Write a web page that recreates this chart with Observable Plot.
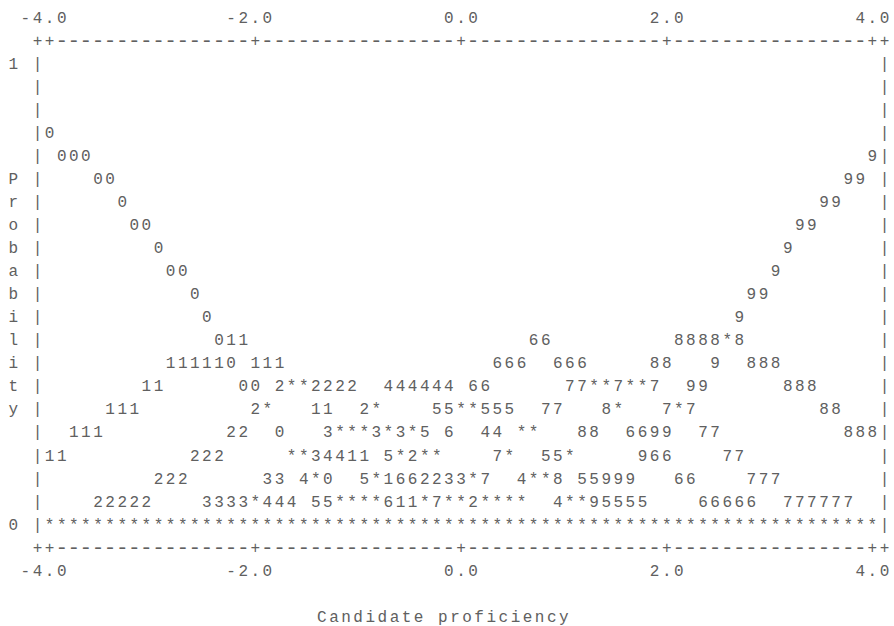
<!DOCTYPE html>
<html>
<head>
<meta charset="utf-8">
<script src="https://cdn.jsdelivr.net/npm/d3@7"></script>
<script src="https://cdn.jsdelivr.net/npm/@observablehq/plot@0.6"></script>
<style>
  body { margin: 0; background: #ffffff; }
  #chart svg { display: block; }
</style>
</head>
<body>
<div id="chart"></div>
<script>
// ---- Data (Winsteps-style category probability curves) ----
const xTicks = [-4, -2, 0, 2, 4];
const xTickLabels = ["-4.0", "-2.0", "0.0", "2.0", "4.0"];
const yTickValues = [1, 0];
const yTickLabels = ["1", "0"];
const yTitle = "Probability";
const xTitle = "Candidate proficiency";

// Each plot line (probability band, from 1.0 down to 0.0 in steps of 0.05):
// [character column, glyphs]  (column 1 = -4.0, column 69 = +4.0)
const curveRows = [
  /* 1.00 */ [],
  /* 0.95 */ [],
  /* 0.90 */ [],
  /* 0.85 */ [[1, "0"]],
  /* 0.80 */ [[2, "000"], [69, "9"]],
  /* 0.75 */ [[5, "00"], [67, "99"]],
  /* 0.70 */ [[7, "0"], [65, "99"]],
  /* 0.65 */ [[8, "00"], [63, "99"]],
  /* 0.60 */ [[10, "0"], [62, "9"]],
  /* 0.55 */ [[11, "00"], [61, "9"]],
  /* 0.50 */ [[13, "0"], [59, "99"]],
  /* 0.45 */ [[14, "0"], [58, "9"]],
  /* 0.40 */ [[15, "011"], [41, "66"], [53, "8888*8"]],
  /* 0.35 */ [[11, "111110"], [18, "111"], [38, "666"], [43, "666"], [51, "88"], [56, "9"], [59, "888"]],
  /* 0.30 */ [[9, "11"], [17, "00"], [20, "2**2222"], [29, "444444"], [36, "66"], [44, "77**7**7"], [54, "99"], [62, "888"]],
  /* 0.25 */ [[6, "111"], [18, "2*"], [23, "11"], [27, "2*"], [33, "55**555"], [42, "77"], [47, "8*"], [52, "7*7"], [65, "88"]],
  /* 0.20 */ [[3, "111"], [16, "22"], [20, "0"], [24, "3***3*3*5"], [34, "6"], [37, "44"], [40, "**"], [45, "88"], [49, "6699"], [55, "77"], [67, "888"]],
  /* 0.15 */ [[1, "11"], [13, "222"], [21, "**34411"], [29, "5*2**"], [38, "7*"], [42, "55*"], [50, "966"], [57, "77"]],
  /* 0.10 */ [[10, "222"], [19, "33"], [22, "4*0"], [27, "5*1662233*7"], [40, "4**8"], [45, "55999"], [53, "66"], [59, "777"]],
  /* 0.05 */ [[5, "22222"], [14, "3333*444"], [23, "55****611*7**2****"], [43, "4**95555"], [55, "66666"], [62, "777777"]],
  /* 0.00 */ [[1, "*********************************************************************"]]
];

// ---- Character grid helpers (17 character columns per 2.0 logits, 20 lines per unit probability) ----
const COLS_PER_UNIT = 8.5;
const colToX = c => -4 + (c - 1) / COLS_PER_UNIT;
const xToCol = x => 1 + (x + 4) * COLS_PER_UNIT;
const LINE = 0.05;
const nRows = curveRows.length; // 21
const rowToP = r => (nRows - r) * LINE; // r = 1 .. 21

const glyphs = [];
const push = (col, r, ch) => {
  if (ch !== " ") glyphs.push({x: colToX(col), p: rowToP(r), ch, size: ch === "-" && r >= 0 && r <= nRows + 1 ? 21 : 16});
};

curveRows.forEach((segs, i) => {
  const r = i + 1;
  segs.forEach(([c0, s]) => [...s].forEach((ch, k) => push(c0 + k, r, ch)));
  push(0, r, "|");
  push(70, r, "|");
});

// top and bottom frame lines
const tickCols = xTicks.map(xToCol);
for (const r of [0, nRows + 1]) {
  for (let c = 0; c <= 70; c++) {
    push(c, r, (c === 0 || c === 70 || tickCols.includes(c)) ? "+" : "-");
  }
}

// tick labels above and below
xTicks.forEach((t, i) => {
  const lab = xTickLabels[i];
  const dot = lab.indexOf(".");
  [...lab].forEach((ch, k) => {
    push(xToCol(t) + k - dot, -1, ch);
    push(xToCol(t) + k - dot, nRows + 2, ch);
  });
});

// y tick labels
yTickValues.forEach((v, i) => push(-2, nRows - v / LINE, yTickLabels[i]));

// vertical y title, one letter per line
[...yTitle].forEach((ch, k) => push(-2, 6 + k, ch));

// x title
[...xTitle].forEach((ch, k) => push(23.5 + k, nRows + 4.0, ch));

const chart = Plot.plot({
  width: 894,
  height: 626,
  style: {background: "#ffffff"},
  x: {domain: [-4, 4], range: [49.1, 871.9], axis: null},
  y: {domain: [0, 1], range: [524.05, 63.05], axis: null},
  marks: [
    Plot.text(glyphs, {
      x: "x",
      y: "p",
      text: "ch",
      fontSize: "size",
      fontFamily: "'Courier New', 'Liberation Mono', monospace",
      fill: "#606060"
    })
  ]
});
document.getElementById("chart").appendChild(chart);
</script>
</body>
</html>
